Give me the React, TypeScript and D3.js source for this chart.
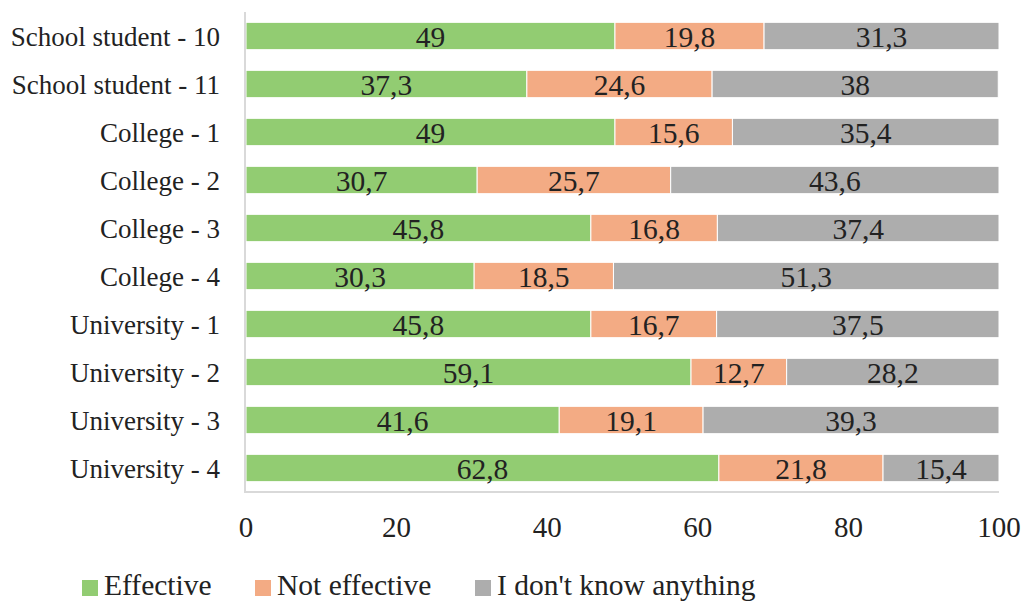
import React from "react";
import * as d3 from "d3";

const categories = [
  "School student - 10",
  "School student - 11",
  "College - 1",
  "College - 2",
  "College - 3",
  "College - 4",
  "University - 1",
  "University - 2",
  "University - 3",
  "University - 4",
];
const effective = [49, 37.3, 49, 30.7, 45.8, 30.3, 45.8, 59.1, 41.6, 62.8];
const notEffective = [19.8, 24.6, 15.6, 25.7, 16.8, 18.5, 16.7, 12.7, 19.1, 21.8];
const dontKnow = [31.3, 38, 35.4, 43.6, 37.4, 51.3, 37.5, 28.2, 39.3, 15.4];
const seriesNames = ["Effective", "Not effective", "I don't know anything"];
const seriesColors = ["#92CC72", "#F3AB84", "#ADADAD"];
const xTicks = [0, 20, 40, 60, 80, 100];

const fmt = (v: number) => String(v).replace(".", ",");

export default function App() {
  const W = 1024, H = 602;
  const x = d3.scaleLinear().domain([0, 100]).range([246, 999]);
  const y = d3.scaleBand().domain(categories).range([12, 492]).paddingInner(0.43).paddingOuter(0.215);
  const series = [effective, notEffective, dontKnow];
  const font = "'Liberation Serif', 'Times New Roman', serif";
  const legendX = [82, 255, 475];
  return (
    <svg width={W} height={H} style={{ position: "absolute", left: 0, top: 0 }} fontFamily={font}>
      <rect width={W} height={H} fill="#fff" />
      {categories.map((c, i) => {
        let acc = 0;
        const cy = y(c)! + y.bandwidth() / 2;
        return (
          <g key={c}>
            {series.map((s, k) => {
              const x0 = acc;
              acc += s[i];
              const x1 = Math.min(acc, 100);
              return (
                <g key={k}>
                  <rect x={x(x0)} y={y(c)!} width={x(x1) - x(x0)} height={y.bandwidth()} fill={seriesColors[k]} stroke="#fff" strokeWidth={1} />
                  <text x={(x(x0) + x(x1)) / 2} y={cy + 10.5} textAnchor="middle" fontSize={29.5} fill="#222">{fmt(s[i])}</text>
                </g>
              );
            })}
            <text x={220} y={cy + 9.5} textAnchor="end" fontSize={27} fill="#222">{c}</text>
          </g>
        );
      })}
      <line x1={245} x2={245} y1={12} y2={493} stroke="#d9d9d9" strokeWidth={2} />
      <line x1={244} x2={999} y1={492} y2={492} stroke="#d9d9d9" strokeWidth={2} />
      {xTicks.map(t => (
        <text key={t} x={x(t)} y={537} textAnchor="middle" fontSize={29} fill="#222">{t}</text>
      ))}
      {seriesNames.map((n, k) => (
        <g key={n}>
          <rect x={legendX[k]} y={580} width={16} height={16} fill={seriesColors[k]} />
          <text x={legendX[k] + 22} y={595} fontSize={29.5} fill="#222">{n}</text>
        </g>
      ))}
    </svg>
  );
}
